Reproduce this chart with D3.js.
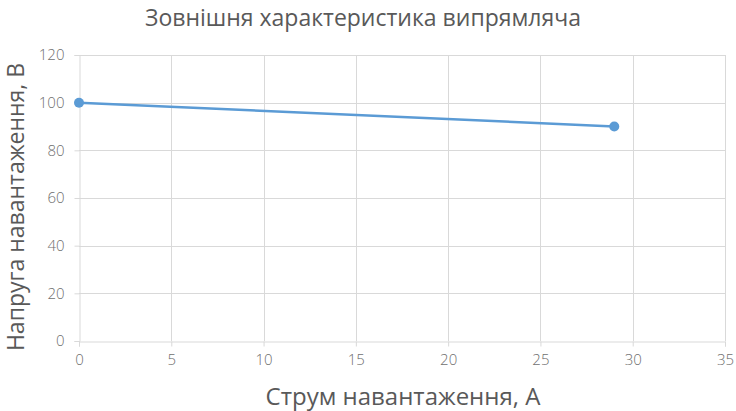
<!DOCTYPE html>
<html>
<head>
<meta charset="utf-8">
<script src="https://cdn.jsdelivr.net/npm/d3@7"></script>
<style>
  html, body { margin: 0; padding: 0; background: #fff; }
  svg { display: block; font-family: "Open Sans", "Noto Sans", sans-serif; }
</style>
</head>
<body>
<svg id="chart" width="736" height="411"></svg>
<script>
// Load characteristic of the rectifier: current (A) vs voltage (V)
const currentA = [0, 29];
const voltageV = [100, 90];
const xTicks = [0, 5, 10, 15, 20, 25, 30, 35];
const yTicks = [0, 20, 40, 60, 80, 100, 120];
const titleText = "Зовнішня характеристика випрямляча";
const xTitle = "Струм навантаження, А";
const yTitle = "Напруга навантаження, В";

const svg = d3.select("#chart");
const W = 736, H = 411;
const m = { left: 79, right: 11, top: 55, bottom: 70 };

const x = d3.scaleLinear().domain([0, 35]).range([m.left, W - m.right]);
const y = d3.scaleLinear().domain([0, 120]).range([H - m.bottom, m.top]);

const grid = "#d9d9d9";
const textCol = "#595959";

// gridlines
svg.append("g").selectAll("line.h").data(yTicks.filter(d => d > 0)).join("line")
  .attr("x1", x(0)).attr("x2", x(35))
  .attr("y1", d => Math.round(y(d)) + 0.5).attr("y2", d => Math.round(y(d)) + 0.5)
  .attr("stroke", grid).attr("stroke-width", 1);
svg.append("g").selectAll("line.v").data(xTicks.filter(d => d > 0)).join("line")
  .attr("x1", d => Math.round(x(d)) + 0.5).attr("x2", d => Math.round(x(d)) + 0.5)
  .attr("y1", y(0)).attr("y2", y(120))
  .attr("stroke", grid).attr("stroke-width", 1);

// axes
const xAxis = svg.append("g")
  .attr("transform", `translate(0,${Math.round(y(0)) + 0.5})`)
  .call(d3.axisBottom(x).tickValues(xTicks).tickSize(5).tickPadding(8));
const yAxis = svg.append("g")
  .attr("transform", `translate(${Math.round(x(0)) + 0.5},0)`)
  .call(d3.axisLeft(y).tickValues(yTicks).tickSize(5).tickPadding(10));
[xAxis, yAxis].forEach(a => {
  a.select(".domain").attr("stroke", grid);
  a.selectAll(".tick line").attr("stroke", grid);
  a.selectAll(".tick text").attr("fill", "#6f6f6f").attr("font-size", 15)
    .attr("font-family", "'Open Sans', sans-serif").attr("font-weight", 300);
});

// series line and markers
const line = d3.line().x((d, i) => x(currentA[i])).y(d => y(d));
svg.append("path").datum(voltageV)
  .attr("d", line).attr("fill", "none")
  .attr("stroke", "#5b9bd5").attr("stroke-width", 2.5).attr("stroke-linecap", "round");
svg.append("g").selectAll("circle").data(voltageV).join("circle")
  .attr("cx", (d, i) => x(currentA[i])).attr("cy", d => y(d)).attr("r", 5)
  .attr("fill", "#5b9bd5");

// titles
svg.append("text").attr("x", 363).attr("y", 26).attr("text-anchor", "middle")
  .attr("fill", textCol).attr("font-size", 23).text(titleText);
svg.append("text").attr("x", 403).attr("y", 405).attr("text-anchor", "middle")
  .attr("fill", textCol).attr("font-size", 24).text(xTitle);
svg.append("text").attr("transform", "translate(24,207) rotate(-90)")
  .attr("text-anchor", "middle")
  .attr("fill", textCol).attr("font-size", 23).text(yTitle);
</script>
</body>
</html>
